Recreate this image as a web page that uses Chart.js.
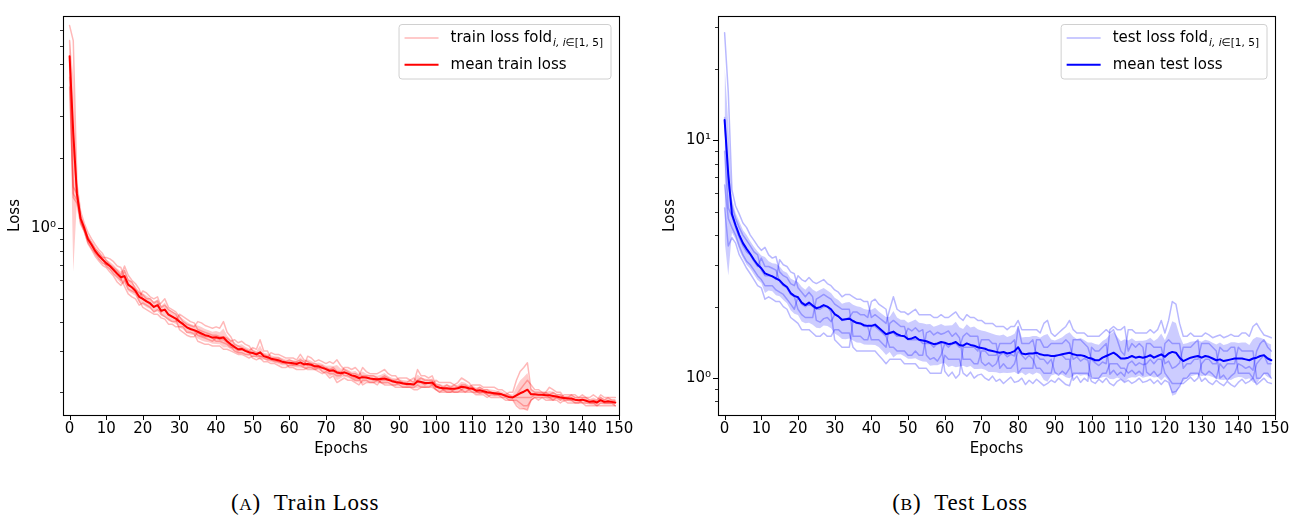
<!DOCTYPE html>
<html><head><meta charset="utf-8">
<script src="https://cdn.jsdelivr.net/npm/chart.js"></script>
<style>
html,body{margin:0;padding:0;background:#fff;}
body{width:1303px;height:520px;position:relative;overflow:hidden;}
#c1{position:absolute;left:0;top:0;}
#c2{position:absolute;left:655px;top:0;}
.cap{position:absolute;top:491px;line-height:23px;font-family:"Liberation Serif","DejaVu Serif",serif;font-size:23px;letter-spacing:0.7px;color:#000;white-space:nowrap;transform:translateX(-50%);}
.sc{font-size:0.76em;}
</style></head><body>
<canvas id="c1" width="650" height="470"></canvas>
<canvas id="c2" width="648" height="470"></canvas>
<div class="cap" style="left:305px">(<span class="sc">A</span>)&nbsp;&nbsp;Train Loss</div>
<div class="cap" style="left:960px">(<span class="sc">B</span>)&nbsp;&nbsp;Test Loss</div>
<script>
// ---------- data ----------
const epochs = Array.from({length: 150}, (_, i) => i);
const epochTicks = [0,10,20,30,40,50,60,70,80,90,100,110,120,130,140,150];

const trainYMajor = [1];
const trainYMajorLabels = ['10⁰'];
const trainYMinor = [0.2,0.3,0.4,0.5,0.6,0.7,0.8,0.9,2,3,4,5,6,7];
const testYMajor = [1, 10];
const testYMajorLabels = ['10⁰', '10¹'];
const testYMinor = [0.8,0.9,2,3,4,5,6,7,8,9,20,30];

const trainMean = [
5.40,2.55,1.40,1.10,1.00,0.90,0.85,0.80,0.765,0.735,
0.710,0.690,0.665,0.640,0.618,0.625,0.575,0.560,0.540,0.510,
0.500,0.488,0.478,0.462,0.470,0.445,0.450,0.428,0.420,0.412,
0.400,0.390,0.378,0.372,0.368,0.362,0.356,0.350,0.347,0.342,
0.343,0.340,0.342,0.330,0.320,0.312,0.305,0.306,0.300,0.296,
0.294,0.290,0.296,0.285,0.282,0.278,0.276,0.274,0.270,0.268,
0.267,0.266,0.264,0.268,0.263,0.264,0.262,0.258,0.258,0.254,
0.251,0.247,0.248,0.243,0.241,0.243,0.240,0.236,0.234,0.230,
0.232,0.231,0.229,0.228,0.227,0.228,0.229,0.226,0.223,0.221,
0.220,0.218,0.217,0.217,0.216,0.223,0.221,0.219,0.219,0.220,
0.212,0.209,0.208,0.208,0.207,0.207,0.208,0.211,0.210,0.208,
0.207,0.203,0.204,0.202,0.200,0.199,0.198,0.197,0.196,0.193,
0.191,0.190,0.194,0.198,0.201,0.205,0.196,0.196,0.195,0.195,
0.194,0.194,0.193,0.192,0.190,0.189,0.188,0.188,0.186,0.185,
0.186,0.184,0.182,0.183,0.181,0.185,0.182,0.183,0.182,0.181];

const trainFold1 = [
7.30,6.30,1.55,1.18,1.05, .96,.90,.85,.81,.78,
.73,.70,.68,.66,.63, .69,.63,.60,.58,.55,
.50,.49,.48,.46,.47, .48,.50,.46,.45,.44,
.42,.40,.39,.385,.38, .40,.395,.385,.38,.375,
.38,.375,.40,.36,.345, .32,.315,.31,.305,.30,
.31,.305,.335,.30,.30, .28,.28,.28,.275,.27,
.265,.262,.268,.265,.26, .285,.28,.27,.275,.27,
.265,.27,.265,.275,.26, .25,.245,.24,.24,.235,
.255,.245,.24,.24,.24, .245,.25,.24,.235,.235,
.225,.22,.22,.225,.22, .25,.235,.235,.23,.235,
.215,.215,.21,.215,.21, .215,.22,.23,.225,.22,
.21,.202,.198,.20,.197, .20,.198,.201,.196,.195,
.20,.20,.225,.245,.255,.267, .205,.20,.20,.20,
.20,.21,.205,.20,.20, .19,.19,.195,.19,.19,
.195,.19,.19,.195,.19, .185,.18,.18,.18,.18];

const trainFold2 = [
6.30,2.20,1.45,1.12,1.02, .92,.87,.82,.79,.75,
.75,.74,.72,.69,.68, .61,.57,.56,.54,.51,
.54,.53,.51,.50,.51, .46,.47,.45,.44,.43,
.40,.39,.38,.37,.365, .35,.345,.34,.335,.33,
.34,.335,.335,.325,.315, .30,.295,.295,.29,.29,
.295,.29,.285,.285,.28, .295,.29,.29,.285,.28,
.28,.28,.275,.29,.275, .27,.265,.265,.26,.26,
.25,.245,.245,.24,.24, .255,.255,.25,.255,.245,
.23,.23,.23,.225,.225, .23,.235,.23,.225,.225,
.23,.23,.23,.225,.23, .22,.22,.215,.22,.215,
.225,.22,.22,.22,.22, .215,.21,.215,.215,.21,
.215,.215,.215,.21,.21, .21,.21,.205,.205,.20,
.195,.19,.195,.205,.215,.225, .215,.205,.205,.20,
.195,.19,.19,.19,.19, .195,.195,.195,.195,.19,
.19,.19,.185,.185,.185, .195,.19,.19,.19,.19];

const trainFold3 = [
5.00,1.50,1.40,1.10,0.99, .89,.85,.79,.76,.74,
.69,.67,.64,.62,.60, .66,.60,.59,.55,.53,
.52,.50,.50,.48,.49, .43,.42,.41,.40,.40,
.43,.42,.41,.40,.395, .37,.365,.36,.355,.35,
.35,.345,.345,.34,.33, .335,.325,.33,.32,.315,
.30,.295,.295,.29,.285, .275,.275,.27,.27,.27,
.275,.27,.27,.275,.27, .26,.26,.255,.255,.255,
.255,.25,.255,.245,.245, .235,.235,.23,.225,.225,
.235,.235,.235,.235,.23, .22,.22,.22,.215,.215,
.22,.22,.215,.215,.215, .225,.23,.225,.225,.225,
.21,.21,.205,.205,.205, .20,.20,.205,.20,.205,
.21,.205,.21,.205,.205, .20,.195,.195,.195,.195,
.19,.19,.19,.19,.19,.19, .19,.195,.195,.195,
.20,.195,.20,.195,.195, .185,.185,.185,.18,.18,
.185,.185,.18,.18,.18, .19,.185,.19,.185,.185];

const trainFold4 = [
4.40,1.40,1.32,1.06,0.97, .87,.82,.78,.74,.71,
.70,.69,.66,.64,.61, .565,.525,.51,.50,.47,
.48,.47,.46,.44,.45, .44,.45,.43,.42,.41,
.37,.36,.35,.345,.345, .36,.35,.345,.345,.34,
.33,.33,.325,.32,.31, .31,.30,.305,.30,.295,
.28,.275,.28,.27,.27, .265,.265,.26,.255,.255,
.26,.26,.26,.26,.255, .25,.25,.25,.245,.24,
.245,.24,.24,.235,.235, .245,.24,.235,.23,.23,
.215,.22,.22,.22,.215, .225,.225,.225,.225,.22,
.215,.21,.21,.21,.21, .215,.21,.21,.21,.215,
.205,.20,.20,.20,.20, .205,.21,.205,.21,.205,
.20,.20,.20,.20,.195, .19,.19,.19,.19,.185,
.185,.185,.185,.18,.175,.175, .185,.19,.185,.19,
.19,.19,.185,.19,.185, .19,.19,.185,.185,.185,
.18,.175,.175,.175,.175, .18,.18,.18,.18,.175];

const trainFold5 = [
4.00,1.35,1.28,1.04,0.97, .86,.81,.76,.725,.695,
.68,.65,.625,.59,.57, .60,.55,.54,.53,.49,
.46,.45,.44,.43,.43, .415,.41,.39,.39,.38,
.38,.38,.36,.36,.355, .33,.325,.32,.32,.315,
.315,.315,.305,.305,.30, .295,.29,.29,.285,.28,
.285,.285,.285,.28,.275, .275,.27,.27,.265,.265,
.255,.255,.25,.25,.25, .255,.255,.25,.255,.245,
.24,.23,.235,.22,.225, .23,.225,.225,.22,.215,
.225,.225,.22,.22,.225, .22,.215,.215,.215,.21,
.21,.21,.21,.21,.205, .205,.21,.21,.21,.21,
.205,.20,.205,.20,.20, .20,.20,.20,.20,.20,
.20,.195,.195,.195,.19, .195,.195,.195,.19,.19,
.185,.185,.175,.17,.17,.168, .185,.19,.19,.19,
.185,.185,.185,.185,.18, .185,.18,.18,.18,.18,
.18,.18,.18,.18,.175, .175,.175,.175,.175,.175];

const testMean = [
12.2,7.2,4.9,4.4,4.0,3.7,3.5,3.33,3.15,3.0,
2.9,2.76,2.72,2.68,2.63,2.58,2.48,2.42,2.28,2.22,
2.19,2.08,2.03,2.08,2.02,1.97,1.99,2.03,2.00,1.95,
1.86,1.82,1.76,1.77,1.78,1.74,1.71,1.70,1.67,1.66,
1.66,1.68,1.63,1.58,1.53,1.55,1.57,1.53,1.51,1.50,
1.46,1.47,1.49,1.45,1.44,1.43,1.41,1.39,1.40,1.42,
1.41,1.39,1.40,1.42,1.38,1.37,1.40,1.38,1.37,1.35,
1.34,1.33,1.31,1.30,1.29,1.28,1.29,1.27,1.28,1.30,
1.35,1.27,1.26,1.27,1.27,1.28,1.26,1.25,1.25,1.24,
1.24,1.25,1.26,1.27,1.28,1.26,1.25,1.25,1.24,1.22,
1.21,1.19,1.19,1.22,1.24,1.26,1.28,1.25,1.21,1.21,
1.22,1.24,1.22,1.23,1.22,1.23,1.25,1.22,1.24,1.26,
1.23,1.27,1.29,1.28,1.22,1.18,1.20,1.22,1.23,1.24,
1.22,1.24,1.23,1.21,1.19,1.20,1.18,1.19,1.20,1.21,
1.21,1.21,1.20,1.19,1.21,1.22,1.24,1.25,1.21,1.19];

const testFold1 = [
28.4,16.0,6.2,5.3,4.9, 4.5,4.3,4.0,3.8,3.6,
3.45,3.55,3.3,3.2,3.25, 2.8,2.7,2.65,2.5,2.45,
2.7,2.6,2.55,2.65,2.55, 2.5,2.55,2.6,2.5,2.45,
2.35,2.3,2.2,2.25,2.25, 2.2,2.15,2.15,2.1,2.1,
1.8,1.85,1.8,1.75,1.7, 1.95,2.2,1.95,1.9,1.9,
1.85,1.9,1.95,1.85,1.85, 1.85,1.85,1.8,1.8,1.85,
1.8,1.8,1.85,1.9,1.8, 1.75,1.85,1.8,1.8,1.75,
1.75,1.7,1.7,1.7,1.65, 1.65,1.65,1.6,1.65,1.65,
1.75,1.6,1.6,1.6,1.6, 1.6,1.55,1.7,1.75,1.55,
1.5,1.55,1.6,1.65,1.75, 1.6,1.55,1.55,1.55,1.5,
1.5,1.5,1.5,1.55,1.6, 1.55,1.6,1.45,1.3,1.25,
1.6,1.6,1.55,1.55,1.55, 1.55,1.6,1.55,1.6,1.75,
1.55,1.75,2.1,2.05,1.7, 1.5,1.5,1.55,1.5,1.5,
1.5,1.55,1.52,1.48,1.5, 1.52,1.48,1.5,1.53,1.5,
1.5,1.55,1.55,1.5,1.65, 1.7,1.6,1.52,1.5,1.48];

const testFold2 = [
12.5,6.5,5.3,4.7,4.3, 4.0,3.8,3.6,3.4,3.3,
2.85,2.7,2.7,2.7,2.6, 3.15,3.0,2.95,2.8,2.75,
2.4,2.3,2.2,2.3,2.2, 1.75,1.72,1.78,1.8,1.73,
1.85,1.82,1.75,1.77,1.8, 1.9,1.9,1.85,1.85,1.8,
2.1,2.15,2.05,2.0,1.95, 1.55,1.55,1.5,1.5,1.5,
1.62,1.58,1.63,1.57,1.6, 1.25,1.2,1.22,1.18,1.25,
1.4,1.35,1.4,1.4,1.35, 1.5,1.55,1.5,1.5,1.5,
1.17,1.13,1.16,1.12,1.15, 1.25,1.28,1.23,1.26,1.24,
1.65,1.4,1.4,1.4,1.45, 1.25,1.2,1.2,1.15,1.2,
1.06,1.03,1.07,1.04,1.1, 1.45,1.45,1.45,1.4,1.35,
1.2,1.16,1.13,1.17,1.15, 1.6,1.65,1.6,1.6,1.65,
1.3,1.4,1.35,1.4,1.35, 1.06,1.03,1.07,1.02,1.05,
1.4,1.45,1.4,1.4,1.4, 1.1,1.15,1.15,1.2,1.2,
1.4,1.4,1.4,1.35,1.3, 1.0,1.03,0.98,1.02,1.05,
1.15,1.13,1.1,1.12,1.08, 1.3,1.4,1.45,1.35,1.3];

const testFold3 = [
9.0,5.2,4.8,4.3,3.9, 3.6,3.4,3.3,3.1,2.95,
3.2,2.95,2.95,2.9,2.85, 2.55,2.45,2.4,2.25,2.2,
1.95,1.85,1.8,1.8,1.8, 2.15,2.2,2.25,2.2,2.15,
2.05,2.0,1.95,1.95,1.95, 1.5,1.5,1.5,1.45,1.45,
1.65,1.65,1.6,1.55,1.5, 1.35,1.35,1.3,1.3,1.3,
1.25,1.25,1.3,1.25,1.25, 1.55,1.58,1.52,1.56,1.53,
1.55,1.58,1.5,1.55,1.48, 1.2,1.2,1.2,1.15,1.15,
1.3,1.3,1.25,1.25,1.25, 1.4,1.4,1.4,1.4,1.45,
1.05,1.1,1.1,1.1,1.1, 1.45,1.45,1.35,1.35,1.4,
1.4,1.4,1.4,1.45,1.4, 1.2,1.23,1.18,1.21,1.19,
1.0,1.0,1.0,1.05,1.05, 1.15,1.15,1.15,1.1,1.1,
1.05,1.08,1.04,1.07,1.03, 1.4,1.4,1.35,1.35,1.35,
1.15,1.18,1.1,1.12,1.16, 1.35,1.35,1.35,1.4,1.45,
1.06,1.03,1.07,1.04,1.0, 1.15,1.1,1.15,1.15,1.15,
1.35,1.3,1.3,1.3,1.3, 1.0,1.0,1.05,1.05,1.0];

const testFold4 = [
6.5,4.7,4.3,4.0,3.6, 3.3,3.1,3.0,2.85,2.7,
2.6,2.45,2.45,2.45,2.35, 2.3,2.25,2.15,2.05,1.95,
2.2,2.05,2.0,2.05,2.0, 1.95,1.95,2.0,2.0,1.9,
1.45,1.4,1.35,1.35,1.35, 1.75,1.7,1.7,1.65,1.65,
1.45,1.45,1.45,1.4,1.35, 1.7,1.75,1.7,1.65,1.65,
1.45,1.45,1.45,1.45,1.4, 1.4,1.4,1.35,1.4,1.4,
1.07,1.02,1.06,1.0,1.04, 1.35,1.35,1.35,1.35,1.3,
1.45,1.45,1.45,1.4,1.4, 1.1,1.15,1.1,1.1,1.15,
1.3,1.25,1.2,1.25,1.2, 1.1,1.1,1.05,1.05,1.05,
1.25,1.25,1.25,1.2,1.2, 0.98,1.02,0.96,1.0,0.97,
1.35,1.3,1.3,1.35,1.4, 1.04,1.08,1.03,1.06,1.02,
1.15,1.18,1.13,1.16,1.14, 1.15,1.2,1.15,1.2,1.2,
1.05,1.0,0.95,0.95,0.95, 0.95,0.98,1.01,0.97,1.0,
1.15,1.2,1.2,1.15,1.15, 1.35,1.3,1.3,1.35,1.35,
1.05,1.05,1.05,1.05,1.0, 1.15,1.2,1.25,1.15,1.15];

const testFold5 = [
5.2,3.6,3.9,3.7,3.3, 3.1,2.9,2.75,2.6,2.45,
2.4,2.15,2.2,2.15,2.1, 2.1,2.0,1.95,1.8,1.75,
1.7,1.6,1.6,1.6,1.55, 1.5,1.5,1.55,1.5,1.5,
1.6,1.6,1.55,1.55,1.55, 1.35,1.3,1.3,1.3,1.3,
1.3,1.3,1.25,1.2,1.15, 1.2,1.2,1.2,1.2,1.15,
1.15,1.15,1.15,1.1,1.1, 1.1,1.05,1.05,1.05,1.05,
1.25,1.2,1.2,1.2,1.2, 1.05,1.02,1.06,1.0,1.03,
1.04,1.0,0.98,1.02,0.97, 0.99,0.95,0.98,1.01,0.96,
0.97,1.0,0.94,0.98,0.95, 0.99,0.96,0.93,0.95,0.98,
0.96,1.0,0.97,0.94,0.93, 1.05,1.05,1.05,1.05,1.05,
0.97,0.95,0.99,0.96,1.0, 0.95,0.93,0.97,0.99,0.96,
0.98,0.95,0.97,1.0,0.96, 0.97,0.99,0.95,0.98,0.94,
0.98,0.96,0.87,0.88,0.92, 1.0,1.0,1.05,1.05,1.05,
0.97,1.0,0.96,0.94,0.98, 0.95,0.93,0.97,0.94,0.92,
0.96,0.99,0.95,0.97,1.0, 0.94,0.97,1.0,0.96,0.95];

// ---------- helpers ----------
const FONT = '"DejaVu Sans", sans-serif';
Chart.defaults.font.family = FONT;
Chart.defaults.font.size = 15;
Chart.defaults.color = '#000';

function toXY(arr) { return arr.map((v, i) => ({x: epochs[i], y: v})); }

function stdBand(mean, folds) {
  const upper = [], lower = [];
  mean.forEach((m, i) => {
    const v = folds.map(f => f[i]);
    const mu = v.reduce((s, x) => s + x, 0) / v.length;
    const sd = Math.sqrt(v.reduce((s, x) => s + (x - mu) * (x - mu), 0) / v.length);
    upper.push(m + sd);
    lower.push(Math.max(m - sd, 1e-3));
  });
  return {upper, lower};
}

function roundRect(ctx, x, y, w, h, r) {
  ctx.beginPath();
  ctx.moveTo(x + r, y);
  ctx.lineTo(x + w - r, y); ctx.quadraticCurveTo(x + w, y, x + w, y + r);
  ctx.lineTo(x + w, y + h - r); ctx.quadraticCurveTo(x + w, y + h, x + w - r, y + h);
  ctx.lineTo(x + r, y + h); ctx.quadraticCurveTo(x, y + h, x, y + h - r);
  ctx.lineTo(x, y + r); ctx.quadraticCurveTo(x, y, x + r, y);
  ctx.closePath();
}

function mplPlugin(cfg) {
  return {
    id: 'mpl_' + cfg.id,
    afterDraw(chart) {
      const ctx = chart.ctx, a = chart.chartArea;
      const xs = chart.scales.x, ys = chart.scales.y;
      ctx.save();
      ctx.strokeStyle = '#000';
      ctx.lineWidth = 1;
      ctx.beginPath();
      epochTicks.forEach(v => {
        const px = Math.round(xs.getPixelForValue(v)) + 0.5;
        ctx.moveTo(px, a.bottom); ctx.lineTo(px, a.bottom + 5);
      });
      cfg.yMajor.forEach(v => {
        const py = Math.round(ys.getPixelForValue(v)) + 0.5;
        ctx.moveTo(a.left - 5, py); ctx.lineTo(a.left, py);
      });
      ctx.stroke();
      ctx.lineWidth = 0.8;
      ctx.beginPath();
      cfg.yMinor.forEach(v => {
        const py = Math.round(ys.getPixelForValue(v)) + 0.5;
        ctx.moveTo(a.left - 3, py); ctx.lineTo(a.left, py);
      });
      ctx.stroke();
      ctx.lineWidth = 1.1;
      ctx.strokeRect(Math.round(a.left) + 0.5, Math.round(a.top) + 0.5,
                     Math.round(a.right - a.left), Math.round(a.bottom - a.top));
      // legend
      const main = '15px ' + FONT, subI = 'italic 10.5px ' + FONT, subN = '10.5px ' + FONT;
      ctx.font = main;
      const w1 = ctx.measureText(cfg.foldLabel).width;
      const w2 = ctx.measureText(cfg.meanLabel).width;
      ctx.font = subI; const ws1 = ctx.measureText(cfg.subItalic).width;
      ctx.font = subN; const ws2 = ctx.measureText(cfg.subNormal).width;
      const textW = Math.max(w1 + 1 + ws1 + ws2, w2);
      const padL = 5.5, lineLen = 34, gap = 12, padR = 8;
      const boxW = padL + lineLen + gap + textW + padR;
      const right = a.right - 8, left = right - boxW, top = a.top + 8.5, h = 54.5;
      roundRect(ctx, left, top, boxW, h, 3);
      ctx.fillStyle = 'rgba(255,255,255,0.8)';
      ctx.fill();
      ctx.strokeStyle = '#d0d0d0';
      ctx.lineWidth = 1;
      ctx.stroke();
      const y1 = top + 13.5, y2 = top + 40.2;
      ctx.lineWidth = 1.5; ctx.strokeStyle = cfg.foldColor;
      ctx.beginPath(); ctx.moveTo(left + padL, y1); ctx.lineTo(left + padL + lineLen, y1); ctx.stroke();
      ctx.lineWidth = 2; ctx.strokeStyle = cfg.meanColor;
      ctx.beginPath(); ctx.moveTo(left + padL, y2); ctx.lineTo(left + padL + lineLen, y2); ctx.stroke();
      const tx = left + padL + lineLen + gap;
      ctx.fillStyle = '#000'; ctx.textBaseline = 'middle'; ctx.textAlign = 'left';
      ctx.font = main; ctx.fillText(cfg.foldLabel, tx, y1);
      ctx.font = subI; ctx.fillText(cfg.subItalic, tx + w1 + 1, y1 + 5);
      ctx.font = subN; ctx.fillText(cfg.subNormal, tx + w1 + 1 + ws1, y1 + 5);
      ctx.font = main; ctx.fillText(cfg.meanLabel, tx, y2);
      ctx.restore();
    }
  };
}

function makeChart(cfg) {
  const band = stdBand(cfg.mean, cfg.folds);
  const datasets = [
    {data: toXY(cfg.mean), borderColor: cfg.meanColor, borderWidth: 2, fill: false},
    {data: toXY(band.upper), borderWidth: 0, borderColor: 'rgba(0,0,0,0)', backgroundColor: cfg.bandColor, fill: '+1'},
    {data: toXY(band.lower), borderWidth: 0, borderColor: 'rgba(0,0,0,0)', fill: false},
    ...cfg.folds.map(f => ({data: toXY(f), borderColor: cfg.foldColor, borderWidth: 1.5, fill: false}))
  ];
  const allY = [...cfg.yMajor, ...cfg.yMinor].sort((p, q) => p - q);
  new Chart(document.getElementById(cfg.id), {
    type: 'line',
    data: {datasets},
    options: {
      responsive: false, animation: false, devicePixelRatio: 1,
      layout: {padding: {left: 0, top: 7, right: cfg.padRight, bottom: 0}},
      elements: {point: {radius: 0}, line: {tension: 0, borderJoinStyle: 'round', borderCapStyle: 'round'}},
      plugins: {legend: {display: false}, tooltip: {enabled: false}},
      scales: {
        x: {
          type: 'linear', min: -1.8, max: 150,
          grid: {display: false, drawTicks: false}, border: {display: false},
          afterBuildTicks: s => { s.ticks = epochTicks.map(v => ({value: v})); },
          afterFit: s => { s.height = 55; },
          ticks: {autoSkip: false, maxRotation: 0, padding: 5, callback: v => String(v)},
          title: {display: true, text: 'Epochs', padding: {top: 0, bottom: 12}}
        },
        y: {
          type: 'logarithmic', min: cfg.ymin, max: cfg.ymax,
          grid: {display: false, drawTicks: false}, border: {display: false},
          afterBuildTicks: s => { s.ticks = allY.map(v => ({value: v})); },
          afterFit: s => { s.width = 63; },
          ticks: {autoSkip: false, padding: 7, callback: v => {
            const k = cfg.yMajor.indexOf(v); return k >= 0 ? cfg.yMajorLabels[k] : '';
          }},
          title: {display: true, text: 'Loss', padding: {top: 6, bottom: 0}}
        }
      }
    },
    plugins: [mplPlugin(cfg)]
  });
}

makeChart({
  id: 'c1', padRight: 31, ymin: 0.16, ymax: 8.02,
  mean: trainMean, folds: [trainFold1, trainFold2, trainFold3, trainFold4, trainFold5],
  meanColor: '#ff0000', foldColor: 'rgba(255,0,0,0.28)', bandColor: 'rgba(255,0,0,0.2)',
  yMajor: trainYMajor, yMajorLabels: trainYMajorLabels, yMinor: trainYMinor,
  foldLabel: 'train loss fold', subItalic: 'i, i', subNormal: '∈[1, 5]', meanLabel: 'mean train loss'
});
makeChart({
  id: 'c2', padRight: 28, ymin: 0.737, ymax: 33.4,
  mean: testMean, folds: [testFold1, testFold2, testFold3, testFold4, testFold5],
  meanColor: '#0000ff', foldColor: 'rgba(0,0,255,0.28)', bandColor: 'rgba(0,0,255,0.2)',
  yMajor: testYMajor, yMajorLabels: testYMajorLabels, yMinor: testYMinor,
  foldLabel: 'test loss fold', subItalic: 'i, i', subNormal: '∈[1, 5]', meanLabel: 'mean test loss'
});
</script>
</body></html>
